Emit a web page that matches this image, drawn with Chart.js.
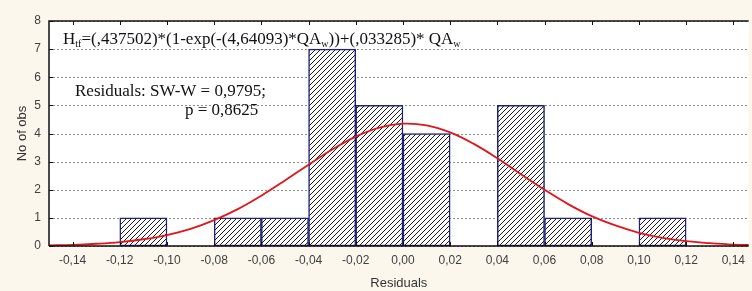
<!DOCTYPE html>
<html>
<head>
<meta charset="utf-8">
<script src="https://cdn.jsdelivr.net/npm/chart.js@4.4.1/dist/chart.umd.min.js"></script>
<style>
  html, body { margin: 0; padding: 0; background: #fbf7ec; }
  #wrap { width: 752px; height: 291px; }
</style>
</head>
<body>
<div id="wrap"><canvas id="hist"></canvas></div>
<script>
// histogram bins (centres) and counts
const binCenters = [-0.11, -0.09, -0.07, -0.05, -0.03, -0.01, 0.01, 0.03, 0.05, 0.07, 0.09, 0.11];
const binCounts = [1, 0, 1, 1, 7, 5, 4, 0, 5, 1, 0, 1];

// expected normal curve
const curveX = [-0.15, -0.14, -0.13, -0.12, -0.11, -0.10, -0.09, -0.08, -0.07, -0.06, -0.05, -0.04, -0.03, -0.02, -0.01,
    0.00, 0.01, 0.02, 0.03, 0.04, 0.05, 0.06, 0.07, 0.08, 0.09, 0.10, 0.11, 0.12, 0.13, 0.14, 0.15];
const curveY = [0.02, 0.04, 0.08, 0.14, 0.24, 0.39, 0.61, 0.92, 1.31, 1.79, 2.33, 2.89, 3.43, 3.89, 4.21,
    4.35, 4.29, 4.04, 3.63, 3.12, 2.55, 2.00, 1.49, 1.06, 0.73, 0.47, 0.29, 0.17, 0.10, 0.05, 0.03];

const xTicks = [-0.14, -0.12, -0.10, -0.08, -0.06, -0.04, -0.02, 0.00, 0.02, 0.04, 0.06, 0.08, 0.10, 0.12, 0.14];
const yTicks = [0, 1, 2, 3, 4, 5, 6, 7, 8];

function hatchPattern() {
    const c = document.createElement('canvas');
    c.width = 5; c.height = 5;
    const g = c.getContext('2d');
    g.fillStyle = '#ffffff';
    g.fillRect(0, 0, 5, 5);
    g.strokeStyle = '#1a1a1a';
    g.lineWidth = 1;
    g.beginPath();
    g.moveTo(-1, 6); g.lineTo(6, -1);
    g.moveTo(-1, 1); g.lineTo(1, -1);
    g.moveTo(4, 6); g.lineTo(6, 4);
    g.stroke();
    return g.createPattern(c, 'repeat');
}

function fmt(v) {
    return v.toFixed(2).replace('.', ',');
}

// draws a run of text pieces, some of them as subscripts
function drawRuns(ctx, runs, x, y, size) {
    runs.forEach(function(r) {
        if (r.sub) {
            ctx.font = Math.round(size * 0.6) + 'px "Liberation Serif"';
            ctx.fillText(r.t, x, y + 3);
        } else {
            ctx.font = size + 'px "Liberation Serif"';
            ctx.fillText(r.t, x, y);
        }
        x += ctx.measureText(r.t).width;
    });
}

const framePlugin = {
    id: 'frame',
    beforeDraw(chart) {
        const {ctx, chartArea: a} = chart;
        ctx.save();
        ctx.fillStyle = '#fbf7ec';
        ctx.fillRect(0, 0, chart.width, chart.height);
        ctx.fillStyle = '#ffffff';
        ctx.fillRect(a.left, a.top, a.right - a.left, a.bottom - a.top);
        ctx.restore();
    },
    beforeDatasetsDraw(chart) {
        // dotted horizontal grid
        const {ctx, chartArea: a, scales} = chart;
        ctx.save();
        ctx.strokeStyle = '#8c8c8c';
        ctx.lineWidth = 1;
        ctx.setLineDash([2, 2]);
        ctx.beginPath();
        yTicks.forEach(function(v) {
            const py = Math.round(scales.y.getPixelForValue(v)) + 0.5;
            ctx.moveTo(a.left, py); ctx.lineTo(a.right, py);
        });
        ctx.stroke();
        ctx.restore();
    },
    afterDraw(chart) {
        const {ctx, chartArea: a, scales} = chart;
        ctx.save();
        ctx.strokeStyle = '#111111';
        ctx.lineWidth = 1.5;
        ctx.beginPath();
        ctx.moveTo(a.left, a.bottom);
        ctx.lineTo(a.left, a.top);
        ctx.lineTo(a.right, a.top);
        ctx.moveTo(a.left, a.bottom);
        ctx.lineTo(a.right, a.bottom);
        ctx.stroke();
        // inward tick marks
        ctx.lineWidth = 1;
        ctx.beginPath();
        xTicks.forEach(function(v) {
            const px = Math.round(scales.x.getPixelForValue(v)) + 0.5;
            ctx.moveTo(px, a.top); ctx.lineTo(px, a.top + 4);
            ctx.moveTo(px, a.bottom); ctx.lineTo(px, a.bottom - 4);
        });
        yTicks.forEach(function(v) {
            const py = Math.round(scales.y.getPixelForValue(v)) + 0.5;
            ctx.moveTo(a.left, py); ctx.lineTo(a.left + 4, py);
        });
        ctx.stroke();

        // fit equation and normality test
        ctx.fillStyle = '#111111';
        ctx.textBaseline = 'alphabetic';
        drawRuns(ctx, [
            {t: 'H'}, {t: 'tf', sub: true},
            {t: '=(,437502)*(1-exp(-(4,64093)*QA'}, {t: 'w', sub: true},
            {t: '))+(,033285)* QA'}, {t: 'w', sub: true}
        ], 63, 44, 17);
        ctx.font = '17px "Liberation Serif"';
        ctx.fillText('Residuals: SW-W = 0,9795;', 75, 96);
        ctx.fillText('p = 0,8625', 185, 115);
        ctx.restore();
    }
};

const tickFont = {family: '"Liberation Sans", Arial, sans-serif', size: 12};
const titleFont = {family: '"Liberation Sans", Arial, sans-serif', size: 13};

new Chart(document.getElementById('hist'), {
    type: 'bar',
    data: {
        datasets: [{
            type: 'line',
            label: 'Normal',
            data: curveX.map(function(x, i) { return {x: x, y: curveY[i]}; }),
            borderColor: '#e0161c',
            borderWidth: 1.8,
            pointRadius: 0,
            tension: 0.4,
            fill: false,
            order: 0
        }, {
            label: 'No of obs',
            data: binCenters.map(function(x, i) { return {x: x, y: binCounts[i]}; }),
            backgroundColor: hatchPattern(),
            borderColor: '#1d2178',
            borderWidth: function(c) { return c.raw && c.raw.y > 0 ? 1.5 : 0; },
            borderSkipped: false,
            barPercentage: 1,
            categoryPercentage: 1,
            order: 1
        }]
    },
    plugins: [framePlugin],
    options: {
        responsive: true,
        maintainAspectRatio: false,
        animation: false,
        layout: {padding: {top: 21, right: 0, left: 0, bottom: 0}},
        plugins: {
            legend: {display: false},
            tooltip: {enabled: false}
        },
        scales: {
            x: {
                type: 'linear',
                min: -0.15,
                max: 0.1465,
                offset: false,
                afterBuildTicks: function(s) { s.ticks = xTicks.map(function(v) { return {value: v}; }); },
                afterFit: function(s) { s.height = 45; },
                grid: {display: false, offset: false, drawTicks: false},
                border: {display: false},
                ticks: {
                    padding: 7,
                    color: '#404040',
                    font: tickFont,
                    maxRotation: 0,
                    autoSkip: false,
                    callback: function(v) { return fmt(v); }
                },
                title: {
                    display: true,
                    text: 'Residuals',
                    color: '#333333',
                    font: titleFont,
                    padding: {top: 0, bottom: 0}
                }
            },
            y: {
                min: 0,
                max: 8,
                afterBuildTicks: function(s) { s.ticks = yTicks.map(function(v) { return {value: v}; }); },
                afterFit: function(s) { s.width = 49; },
                grid: {display: false, drawTicks: false},
                border: {display: false},
                ticks: {
                    padding: 8,
                    color: '#404040',
                    font: tickFont
                },
                title: {
                    display: true,
                    text: 'No of obs',
                    color: '#333333',
                    font: titleFont,
                    padding: {top: 15, bottom: 0}
                }
            }
        }
    }
});
</script>
</body>
</html>
